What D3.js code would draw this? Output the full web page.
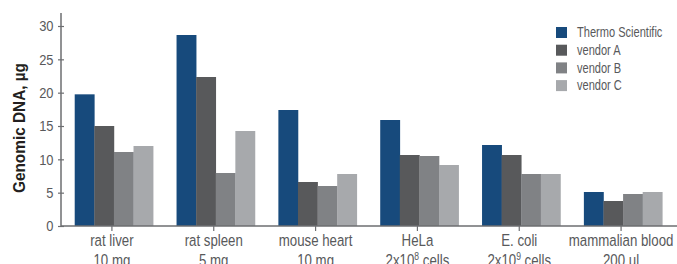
<!DOCTYPE html>
<html><head><meta charset="utf-8">
<script src="https://cdn.jsdelivr.net/npm/d3@7"></script>
<style>
body{margin:0;background:#fff;}
text{font-family:"Liberation Sans",Arial,sans-serif;fill:#58595b;}
</style></head>
<body><svg id="c" width="677" height="264"></svg>
<script>
const categories = ["rat liver","rat spleen","mouse heart","HeLa","E. coli","mammalian blood"];
const subLabels = [["10 mg",""],["5 mg",""],["10 mg",""],["2x10","8"," cells"],["2x10","9"," cells"],["200  µl",""]];
const seriesNames = ["Thermo Scientific","vendor A","vendor B","vendor C"];
const thermo  = [19.75, 28.65, 17.4, 15.9, 12.15, 5.1];
const vendorA = [15.0, 22.35, 6.6, 10.65, 10.65, 3.75];
const vendorB = [11.1, 7.95, 6.0, 10.5, 7.8, 4.8];
const vendorC = [12.0, 14.25, 7.8, 9.15, 7.8, 5.1];
const yTicks = [0,5,10,15,20,25,30];
const colors = ["#174a7c","#58595b","#808285","#a7a9ac"];
const series = [thermo, vendorA, vendorB, vendorC];

const svg = d3.select("#c");
const x0 = d3.scaleBand().domain(categories).range([61, 672]).paddingInner(0.23).paddingOuter(0.115);
const x1 = d3.scaleBand().domain(seriesNames).range([0, x0.bandwidth()]);
const y = d3.scaleLinear().domain([0,30]).range([226,26]);

// bars
const g = svg.append("g");
categories.forEach((c,i)=>{
  seriesNames.forEach((s,j)=>{
    g.append("rect")
      .attr("x", x0(c)+x1(s)+2)
      .attr("y", y(series[j][i]))
      .attr("width", x1.bandwidth()+0.3)
      .attr("height", y(0)-y(series[j][i]))
      .attr("fill", colors[j]);
  });
});

// y axis
const ya = svg.append("g").attr("transform","translate(61,0)")
  .call(d3.axisLeft(y).tickValues(yTicks).tickSize(3).tickFormat(""));
ya.select(".domain").remove();
ya.selectAll(".tick line").attr("x2",3).attr("x1",-3).attr("stroke","#6d6e71").attr("stroke-width",1.2);
yTicks.forEach(v=>{
  svg.append("text").attr("transform",`translate(53.5,${y(v)+5.3}) scale(0.86,1)`)
    .attr("text-anchor","end").style("font-size","15px").text(v);
});
svg.append("line").attr("x1",61).attr("x2",61).attr("y1",13).attr("y2",226).attr("stroke","#6d6e71").attr("stroke-width",1.5);

// x axis
const xa = svg.append("g").attr("transform","translate(0,226)")
  .call(d3.axisBottom(x0).tickSize(5).tickFormat(""));
xa.select(".domain").remove();
xa.selectAll(".tick line").attr("stroke","#6d6e71").attr("stroke-width",1.2);
svg.append("line").attr("x1",61).attr("x2",677).attr("y1",226).attr("y2",226).attr("stroke","#6d6e71").attr("stroke-width",1.5);

categories.forEach((c,i)=>{
  const cx = x0(c)+x0.bandwidth()/2;
  svg.append("text").attr("transform",`translate(${cx},245.5) scale(0.78,1)`).attr("text-anchor","middle").style("font-size","17px").text(c);
  const t = svg.append("text").attr("transform",`translate(${cx},265.5) scale(0.78,1)`).attr("text-anchor","middle").style("font-size","17px");
  const sl = subLabels[i];
  t.append("tspan").text(sl[0]);
  if (sl[1]) {
    t.append("tspan").attr("dy",-6).style("font-size","11px").text(sl[1]);
    t.append("tspan").attr("dy",6).text(sl[2]);
  }
});

// y title
svg.append("text").attr("transform","translate(24.5,128) rotate(-90)").attr("text-anchor","middle")
  .attr("textLength",130).attr("lengthAdjust","spacingAndGlyphs")
  .style("font-size","16.5px").style("font-weight","bold").style("fill","#231f20").text("Genomic DNA, µg");

// legend
const lg = svg.append("g");
seriesNames.forEach((s,j)=>{
  lg.append("rect").attr("x",556).attr("y",27+j*17.7).attr("width",11).attr("height",11).attr("fill",colors[j]);
  lg.append("text").attr("transform",`translate(577,${37.3+j*17.7}) scale(0.79,1)`).style("font-size","14px").text(s);
});
</script></body></html>
